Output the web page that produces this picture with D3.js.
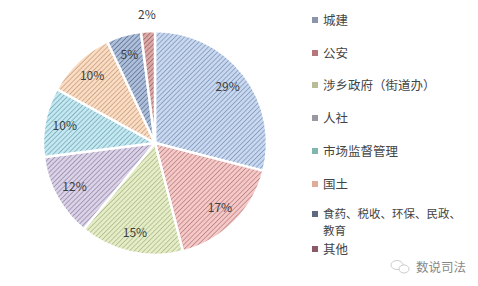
<!DOCTYPE html>
<html>
<head>
<meta charset="UTF-8">
<script src="https://cdn.jsdelivr.net/npm/d3@7"></script>
<style>
  body { margin: 0; background: #fff; }
  text { font-family: "Noto Sans CJK SC", "Noto Sans", sans-serif; }
</style>
</head>
<body>
<script>
const categories = ['城建', '公安', '涉乡政府（街道办）', '人社', '市场监督管理', '国土', '食药、税收、环保、民政、教育', '其他']
const values = [29, 17, 15, 12, 10, 10, 5, 2]
const fills = ['#c8d8f0', '#f4c9c8', '#e5edc6', '#dbd2e8', '#c3e8f1', '#fbdcc2', '#adbfda', '#dcaaa9']
const strokes = ['#5a7399', '#9c5c5b', '#8f9b6b', '#706686', '#508b99', '#a68161', '#34486a', '#7b3f3e']
const markers = ['#8a95ad', '#b7777a', '#b8bd98', '#9a99a3', '#7fb6ad', '#e0ab97', '#5e6a80', '#8c5a66']

const width = 478, height = 286
const cx = 155, cy = 143, radius = 112

const svg = d3.select('body').append('svg')
  .attr('width', width)
  .attr('height', height)

// diagonal hatch patterns
const defs = svg.append('defs')
categories.forEach((c, i) => {
  const p = defs.append('pattern')
    .attr('id', 'hatch' + i)
    .attr('patternUnits', 'userSpaceOnUse')
    .attr('width', 3.4).attr('height', 3.4)
    .attr('patternTransform', 'rotate(45)')
  p.append('rect').attr('width', 3.4).attr('height', 3.4).attr('fill', fills[i])
  p.append('line')
    .attr('x1', 0).attr('y1', 0).attr('x2', 0).attr('y2', 3.4)
    .attr('stroke', strokes[i]).attr('stroke-width', 1)
})

const pie = d3.pie().sort(null).value(d => d)
const arcs = pie(values)
const arc = d3.arc().innerRadius(0).outerRadius(radius)
const labelArc = d3.arc().innerRadius(radius * 0.82).outerRadius(radius * 0.82)
const outerArc = d3.arc().innerRadius(radius + 16).outerRadius(radius + 16)

const g = svg.append('g').attr('transform', 'translate(' + cx + ',' + cy + ')')

g.selectAll('path.slice')
  .data(arcs)
  .enter().append('path')
  .attr('class', 'slice')
  .attr('d', arc)
  .attr('fill', (d, i) => 'url(#hatch' + i + ')')
  .attr('stroke', '#fff')
  .attr('stroke-width', 2.5)

g.selectAll('text.pct')
  .data(arcs)
  .enter().append('text')
  .attr('class', 'pct')
  .attr('transform', d => 'translate(' + (d.data < 3 ? outerArc : labelArc).centroid(d) + ')')
  .attr('text-anchor', 'middle')
  .attr('dy', '0.35em')
  .attr('font-size', 12)
  .attr('fill', '#404040')
  .text(d => d.data + '%')

// legend
const legendY = [20, 53, 85, 118, 151, 184, 214, 249]
const legend = svg.append('g')
categories.forEach((c, i) => {
  const item = legend.append('g').attr('transform', 'translate(312,' + legendY[i] + ')')
  item.append('rect')
    .attr('x', 0).attr('y', -3)
    .attr('width', 6).attr('height', 6)
    .attr('fill', markers[i])
  // long name wraps onto a second line
  const lines = c.length > 12 ? ['食药、税收、环保、民政、', '教育'] : [c]
  lines.forEach((line, j) => {
    item.append('text')
      .attr('x', 11).attr('y', j * 17)
      .attr('dy', '0.36em')
      .attr('font-size', lines.length > 1 ? 11.5 : 12.5)
      .attr('fill', '#444')
      .text(line)
  })
})

// watermark
const wm = svg.append('g')
wm.append('ellipse').attr('cx', 397).attr('cy', 265).attr('rx', 6).attr('ry', 4.5)
  .attr('fill', 'none').attr('stroke', '#ccc').attr('stroke-width', 1)
wm.append('ellipse').attr('cx', 404).attr('cy', 269).attr('rx', 5).attr('ry', 4)
  .attr('fill', '#fff').attr('stroke', '#ccc').attr('stroke-width', 1)
wm.append('text')
  .attr('x', 416).attr('y', 267)
  .attr('dy', '0.36em')
  .attr('font-size', 12.5)
  .attr('fill', '#888')
  .text('数说司法')
</script>
</body>
</html>
